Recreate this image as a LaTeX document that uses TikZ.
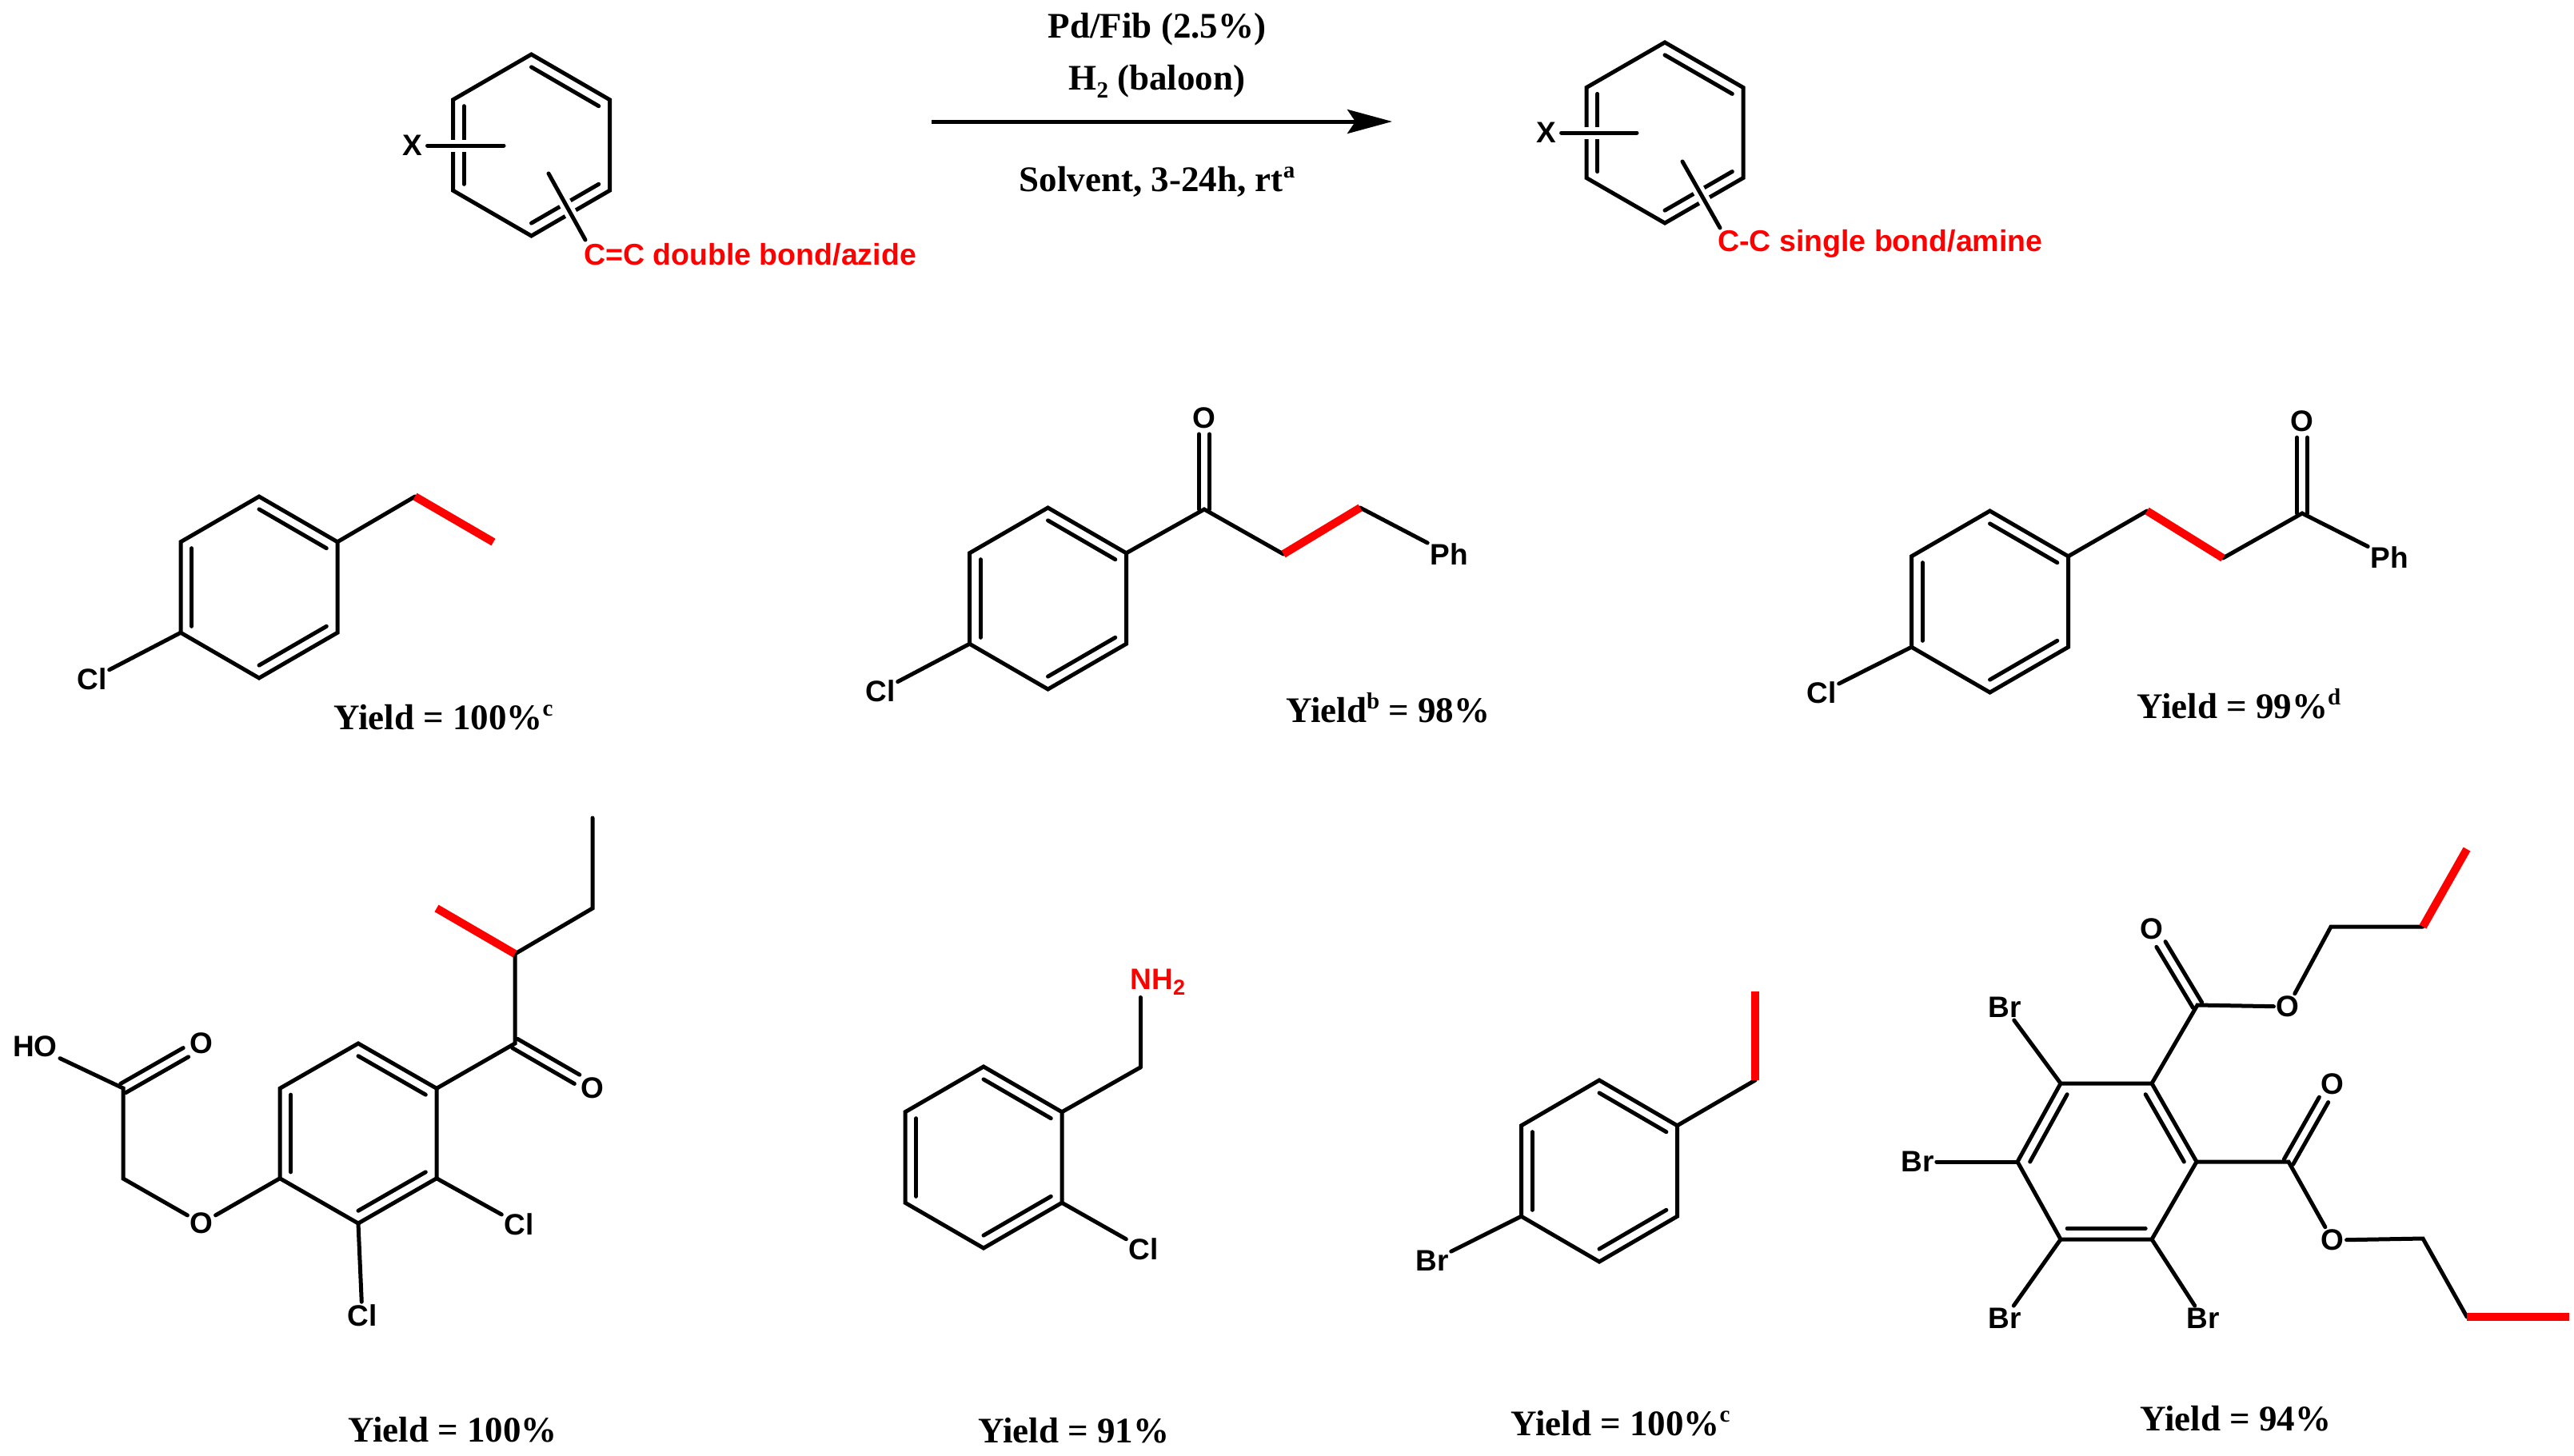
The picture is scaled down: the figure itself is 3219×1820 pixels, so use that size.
\documentclass[tikz,border=0pt]{standalone}
\usepackage{fontspec}
\setmainfont{Liberation Serif}
\newfontfamily\atomfont{Liberation Sans}
\usetikzlibrary{calc,arrows.meta}
\tikzset{
  bond/.style={draw=black,line width=5pt,line cap=round,line join=miter},
  redbond/.style={draw=red,line width=10pt,line cap=butt},
  halo/.style={draw=white,line width=15pt,line cap=butt},
  atom/.style={font=\atomfont\bfseries\fontsize{37}{42}\selectfont,inner sep=3pt,text=black},
  redatom/.style={atom,text=red},
  note/.style={font=\atomfont\bfseries\fontsize{37.5}{42}\selectfont,inner sep=0pt,text=red,anchor=base west},
  yieldtext/.style={font=\bfseries\fontsize{45}{50}\selectfont,inner sep=0pt,anchor=base,text=black},
  rxnarrow/.style={draw=black,line width=5pt,-{Stealth[length=56pt,width=30pt,inset=10pt]}}
}
\newcommand\supmark[1]{\raisebox{17pt}{\fontsize{29}{30}\selectfont #1}}
\newcommand\submark[1]{\raisebox{-10pt}{\fontsize{29}{30}\selectfont #1}}
\newcommand\atomsub[1]{\raisebox{-7pt}{\fontsize{27}{30}\selectfont #1}}
% ring: prefix, cx, cy, R, half width
\newcommand\hexring[5]{%
  \coordinate (#1c) at (#2,#3);
  \coordinate (#1t) at (#2,#3-#4);
  \coordinate (#1ur) at (#2+#5,#3-#4/2);
  \coordinate (#1lr) at (#2+#5,#3+#4/2);
  \coordinate (#1b) at (#2,#3+#4);
  \coordinate (#1ll) at (#2-#5,#3+#4/2);
  \coordinate (#1ul) at (#2-#5,#3-#4/2);
  \draw[bond] (#1t) -- (#1ur) -- (#1lr) -- (#1b) -- (#1ll) -- (#1ul) -- cycle;
  \inbond{#1t}{#1ur}{#1c}
  \inbond{#1ul}{#1ll}{#1c}
  \inbond{#1b}{#1lr}{#1c}
}
\newcommand\inbond[3]{\draw[bond] ($(#1)!.14!(#3)$) -- ($(#2)!.14!(#3)$);}
% double bond centred on the axis #1 -- #2, stopping at fraction #3
\newcommand\dblbond[3]{%
  \draw[bond] ($(#1)!6.5pt!90:(#2)$) -- ($($(#1)!#3!(#2)$)!6.5pt!90:(#2)$);
  \draw[bond] ($(#1)!6.5pt!-90:(#2)$) -- ($($(#1)!#3!(#2)$)!6.5pt!-90:(#2)$);
}
\begin{document}
\begin{tikzpicture}[x=1pt,y=-1pt]
\fill[white] (0,0) rectangle (3219,1820);
\useasboundingbox (0,0) rectangle (3219,1820);

% ---------- reaction scheme ----------
\node[atom,inner sep=6pt] (xa) at (516,182) {X};
\hexring{a}{664.5}{181.5}{113.5}{98}
\coordinate (xae) at (630,182);
\coordinate (ya1) at (686,217);
\coordinate (ya2) at (732,300);
\draw[halo] (xa.east) -- (xae);
\draw[bond] (xa.east) -- (xae);
\draw[halo] (ya1) -- (ya2);
\draw[bond] (ya1) -- (ya2);
\node[note] (na) at (730,331) {C=C double bond/azide};

\coordinate (ar1) at (1165,152);
\coordinate (ar2) at (1741,152);
\draw[rxnarrow] (ar1) -- (ar2);
\node[yieldtext] (c1) at (1447,47) {Pd/Fib (2.5\%)};
\node[yieldtext] (c2) at (1447,112) {H\submark{2} (baloon)};
\node[yieldtext] (c3) at (1447,239) {Solvent, 3-24h, rt\supmark{a}};

\node[atom,inner sep=6pt] (xb) at (1934,166) {X};
\hexring{b}{2082}{166}{113}{98}
\coordinate (xbe) at (2047,166);
\coordinate (yb1) at (2104,202);
\coordinate (yb2) at (2151,285);
\draw[halo] (xb.east) -- (xbe);
\draw[bond] (xb.east) -- (xbe);
\draw[halo] (yb1) -- (yb2);
\draw[bond] (yb1) -- (yb2);
\node[note] (nb) at (2148,314) {C-C single bond/amine};

% ---------- product 1 ----------
\hexring{p}{324}{734.5}{113.5}{98}
\coordinate (p1) at (519,621);
\coordinate (p2) at (617,678);
\node[atom] (pcl) at (115,849) {Cl};
\draw[bond] (pur) -- (p1);
\draw[bond] (pll) -- (pcl);
\draw[redbond] (p1) -- (p2);
\node[yieldtext,anchor=base west] (py) at (417,912) {Yield = 100\%\supmark{c}};

% ---------- product 2 ----------
\hexring{q}{1310.5}{748.5}{113.5}{98}
\coordinate (q1) at (1506,637);
\coordinate (q2) at (1605,693);
\coordinate (q3) at (1701,635);
\node[atom] (qo) at (1506,523) {O};
\node[atom] (qph) at (1812,693) {Ph};
\node[atom] (qcl) at (1101,864) {Cl};
\draw[bond] (qur) -- (q1) -- (q2);
\draw[bond] (q3) -- (qph);
\draw[bond] (qll) -- (qcl);
\dblbond{q1}{qo}{.825}
\draw[redbond] (q2) -- (q3);
\node[yieldtext,anchor=base west] (qy) at (1608,903) {Yield\supmark{b} = 98\%};

% ---------- product 3 ----------
\hexring{r}{2488.5}{752.5}{113.5}{98}
\coordinate (r1) at (2685,639);
\coordinate (r2) at (2780,698);
\coordinate (r3) at (2879,642);
\node[atom] (ro) at (2879,527) {O};
\node[atom] (rph) at (2988,697) {Ph};
\node[atom] (rcl) at (2278,866) {Cl};
\draw[bond] (rur) -- (r1);
\draw[bond] (r2) -- (r3) -- (rph);
\draw[bond] (rll) -- (rcl);
\dblbond{r3}{ro}{.825}
\draw[redbond] (r1) -- (r2);
\node[yieldtext,anchor=base west] (ry) at (2672,898) {Yield = 99\%\supmark{d}};

% ---------- product 4 ----------
\hexring{s}{448}{1417.5}{112.5}{98}
\coordinate (s1) at (644,1305);
\coordinate (s2) at (644,1193);
\coordinate (s3) at (546,1136);
\coordinate (s4) at (741,1136);
\coordinate (s5) at (741,1023);
\coordinate (s6) at (154,1361);
\coordinate (s7) at (154,1474);
\node[atom] (so1) at (741,1361) {O};
\node[atom] (scl1) at (649,1531) {Cl};
\node[atom] (scl2) at (453,1645) {Cl};
\node[atom] (so2) at (252,1530) {O};
\node[atom] (so3) at (252,1305) {O};
\node[atom] (sho) at (44,1309) {HO};
\draw[bond] (sur) -- (s1) -- (s2) -- (s4) -- (s5);
\dblbond{s1}{so1}{.8}
\draw[bond] (slr) -- (scl1);
\draw[bond] (sb) -- (scl2);
\draw[bond] (sll) -- (so2) -- (s7) -- (s6) -- (sho);
\dblbond{s6}{so3}{.8}
\draw[redbond] (s2) -- (s3);
\node[yieldtext,anchor=base west] (sy) at (435,1803) {Yield = 100\%};

% ---------- product 5 ----------
\hexring{t}{1230}{1447.5}{113.5}{98}
\coordinate (t1) at (1426,1335);
\node[redatom] (tn) at (1448,1228) {NH\atomsub{2}};
\node[atom] (tcl) at (1430,1562) {Cl};
\draw[bond] (tur) -- (t1);
\draw[bond] (t1) -- (t1 |- tn.south);
\draw[bond] (tlr) -- (tcl);
\node[yieldtext,anchor=base west] (ty) at (1223,1804) {Yield = 91\%};

% ---------- product 6 ----------
\hexring{u}{2000}{1464.5}{113.5}{97.5}
\coordinate (u1) at (2195,1351);
\coordinate (u2) at (2195,1240);
\node[atom] (ubr) at (1791,1577) {Br};
\draw[bond] (uur) -- (u1);
\draw[bond] (ull) -- (ubr);
\draw[redbond] (u1) -- (u2);
\node[yieldtext,anchor=base west] (uy) at (1889,1795) {Yield = 100\%\supmark{c}};

% ---------- product 7 ----------
\coordinate (vc) at (2635,1453);
\coordinate (v1) at (2577,1355);
\coordinate (v2) at (2691,1355);
\coordinate (v3) at (2747,1453);
\coordinate (v4) at (2691,1550);
\coordinate (v5) at (2577,1550);
\coordinate (v6) at (2523,1453);
\draw[bond] (v1) -- (v2) -- (v3) -- (v4) -- (v5) -- (v6) -- cycle;
\inbond{v2}{v3}{vc}
\inbond{v4}{v5}{vc}
\inbond{v6}{v1}{vc}
\coordinate (w1) at (2748,1257);
\coordinate (w2) at (2915,1159);
\coordinate (w3) at (3030,1159);
\coordinate (w4) at (3085,1062);
\coordinate (x1) at (2862,1453);
\coordinate (x2) at (3030,1549);
\coordinate (x3) at (3085,1647);
\coordinate (x4) at (3213,1647);
\node[atom] (wo1) at (2691,1162) {O};
\node[atom] (wo2) at (2861,1259) {O};
\node[atom] (xo1) at (2917,1356) {O};
\node[atom] (xo2) at (2917,1551) {O};
\node[atom] (vbr1) at (2507,1260) {Br};
\node[atom] (vbr2) at (2398,1453) {Br};
\node[atom] (vbr3) at (2507,1649) {Br};
\node[atom] (vbr4) at (2755,1649) {Br};
\draw[bond] (v2) -- (w1) -- (wo2) -- (w2) -- (w3);
\dblbond{w1}{wo1}{.8}
\draw[bond] (v3) -- (x1) -- (xo2) -- (x2) -- (x3);
\dblbond{x1}{xo1}{.8}
\draw[bond] (v1) -- (vbr1);
\draw[bond] (v6) -- (vbr2);
\draw[bond] (v5) -- (vbr3);
\draw[bond] (v4) -- (vbr4);
\draw[redbond] (w3) -- (w4);
\draw[redbond] (x3) -- (x4);
\node[yieldtext,anchor=base west] (vy) at (2676,1789) {Yield = 94\%};
\end{tikzpicture}
\end{document}
